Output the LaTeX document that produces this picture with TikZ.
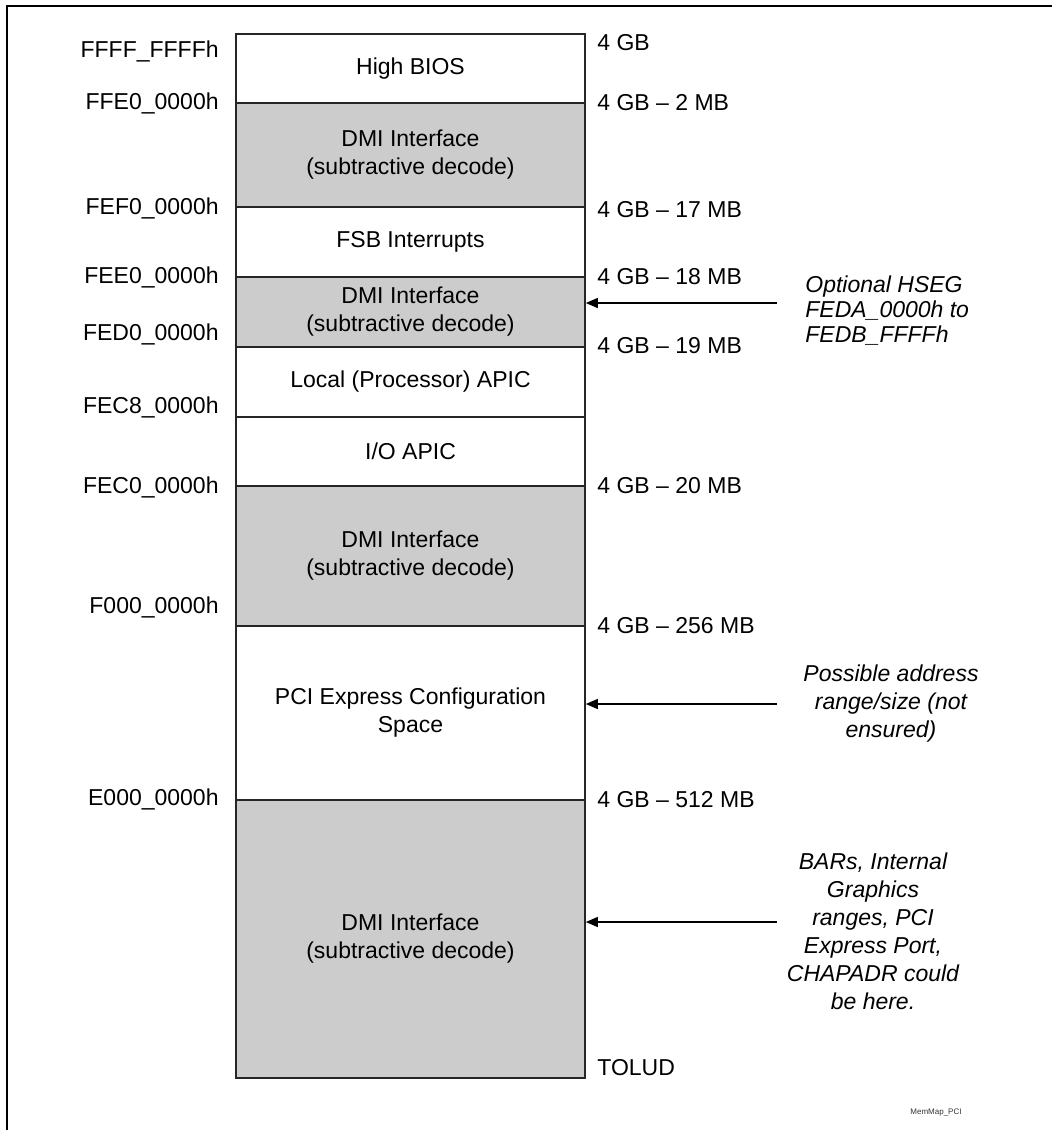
\documentclass[tikz,border=0pt]{standalone}
\usepackage{fontspec}
\setmainfont{Liberation Sans}
\usepackage{xcolor}
\usetikzlibrary{arrows.meta}

\definecolor{dmigray}{HTML}{CCCCCC}

\tikzset{
	region/.style={draw=black!85, line width=0.8pt, minimum width=174.5pt, inner sep=0pt, align=center, font=\fontsize{11.5}{14}\selectfont},
	dmi/.style={region, fill=dmigray},
	leftaddr/.style={anchor=east, inner sep=0pt, font=\fontsize{11.5}{14}\selectfont},
	rightaddr/.style={anchor=west, inner sep=0pt, font=\fontsize{11.5}{14}\selectfont},
	note/.style={inner sep=0pt, font=\fontsize{11.5}{14}\selectfont\itshape},
	ptr/.style={-{Triangle[length=6pt,width=5pt]}, line width=0.65pt}
}

\begin{document}
\begin{tikzpicture}[x=0.5pt, y=-0.5pt]
	\useasboundingbox (0,0) rectangle (1052,1130);
	
	% frame
	\draw[line width=1pt] (7,1130) -- (7,6) -- (1052,6);
	
	% memory regions
	\begin{scope}
		\node[region, minimum height=34.5pt] (bios) at (410.5,68.5) {High BIOS};
		\node[dmi, minimum height=52pt] (dmiA) at (410.5,155) {DMI Interface\\(subtractive decode)};
		\node[region, minimum height=35pt] (fsb) at (410.5,242) {FSB Interrupts};
		\node[dmi, minimum height=35pt] (dmiB) at (410.5,312) {DMI Interface\\(subtractive decode)};
		\node[region, minimum height=35pt] (lapic) at (410.5,382) {Local (Processor) APIC};
		\node[region, minimum height=34.5pt] (ioapic) at (410.5,451.5) {I/O APIC};
		\node[dmi, minimum height=70pt] (dmiC) at (410.5,556) {DMI Interface\\(subtractive decode)};
		\node[region, minimum height=87pt] (pcie) at (410.5,713) {PCI Express Configuration\\Space};
		\node[dmi, minimum height=139pt] (dmiD) at (410.5,939) {DMI Interface\\(subtractive decode)};
	\end{scope}
	
	% addresses
	\foreach \txt/\y [count=\i] in {FFFF\_FFFFh/51, FFE0\_0000h/103, FEF0\_0000h/208, FEE0\_0000h/277, FED0\_0000h/334, FEC8\_0000h/407, FEC0\_0000h/487, F000\_0000h/607, E000\_0000h/799}
		\node[leftaddr] (addr\i) at (219,\y) {\txt};
	
	\foreach \txt/\y [count=\i] in {4 GB/43, 4 GB -- 2 MB/103, 4 GB -- 17 MB/210, 4 GB -- 18 MB/277, 4 GB -- 19 MB/346, 4 GB -- 20 MB/486, 4 GB -- 256 MB/626, 4 GB -- 512 MB/800, TOLUD/1068}
		\node[rightaddr] (size\i) at (597,\y) {\txt};
	
	% notes
	\node[note, anchor=west, align=left, font=\fontsize{11.5}{12.5}\selectfont\itshape] (hseg) at (805,311) {Optional HSEG\\FEDA\_0000h to\\FEDB\_FFFFh};
	\node[note, align=center] (possible) at (891,704) {Possible address\\range/size (not\\ensured)};
	\node[note, align=center] (bars) at (873,931) {BARs, Internal\\Graphics\\ranges, PCI\\Express Port,\\CHAPADR could\\be here.};
	
	\coordinate (hsegtail) at (777,303);
	\coordinate (possibletail) at (777,704);
	\coordinate (barstail) at (777,922);
	\draw[ptr] (hsegtail) -- (hsegtail -| dmiB.east);
	\draw[ptr] (possibletail) -- (possibletail -| pcie.east);
	\draw[ptr] (barstail) -- (barstail -| dmiD.east);
	
	\node[inner sep=0pt, font=\fontsize{4}{5}\selectfont, text=black!80] (figtag) at (936,1113) {MemMap\_PCI};
\end{tikzpicture}
\end{document}
